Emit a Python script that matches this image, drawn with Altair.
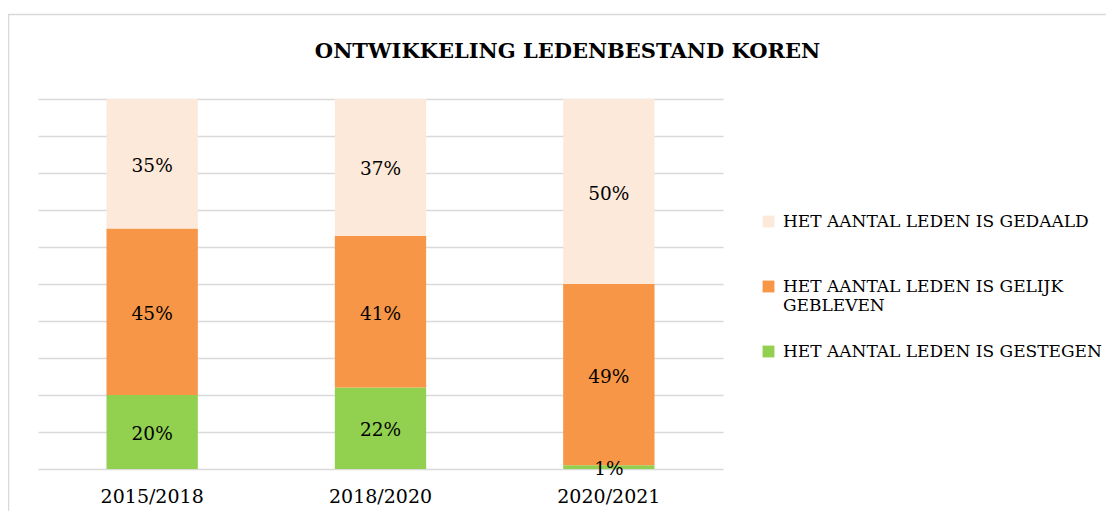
import altair as alt
import pandas as pd

periods = ["2015/2018", "2018/2020", "2020/2021"]
series = ["HET AANTAL LEDEN IS GESTEGEN", "HET AANTAL LEDEN IS GELIJK GEBLEVEN", "HET AANTAL LEDEN IS GEDAALD"]
gestegen = [20, 22, 1]
gelijk = [45, 41, 49]
gedaald = [35, 37, 50]
colors = ["#92D050", "#F79646", "#FDE9D9"]
title = "ONTWIKKELING LEDENBESTAND KOREN"

rows = []
for i, p in enumerate(periods):
    for s, vals, o in zip(series, [gestegen, gelijk, gedaald], [0, 1, 2]):
        rows.append({"period": p, "series": s, "value": vals[i] / 100, "order": o,
                     "label": f"{vals[i]}%"})
df = pd.DataFrame(rows)

FONT = "DejaVu Serif"

base = alt.Chart(df).encode(
    x=alt.X("period:N", sort=periods, title=None,
            scale=alt.Scale(paddingInner=0.6, paddingOuter=0.3),
            axis=alt.Axis(labelAngle=0, ticks=False, domain=False, labelFontSize=19,
                          labelFont=FONT, labelColor="#000000", labelPadding=18)),
)

bars = base.mark_bar().encode(
    y=alt.Y("value:Q", stack="zero", title=None,
            scale=alt.Scale(domain=[0, 1], nice=False),
            axis=alt.Axis(labels=False, ticks=False, domain=False, tickCount=10,
                          grid=True, gridColor="#D9D9D9", gridWidth=1.5)),
    color=alt.Color("series:N", sort=series,
                    scale=alt.Scale(domain=series, range=colors),
                    legend=alt.Legend(title=None, orient="none", legendX=722, legendY=114,
                                      values=series[::-1],
                                      symbolType="square", symbolSize=140, symbolStrokeWidth=0,
                                      labelFont=FONT, labelFontSize=17, labelColor="#000000",
                                      labelLimit=400, rowPadding=28,
                                      labelOffset=6,
                                      labelExpr="datum.label == 'HET AANTAL LEDEN IS GELIJK GEBLEVEN' ? ['HET AANTAL LEDEN IS GELIJK', 'GEBLEVEN'] : [datum.label, ' ']")),
    order=alt.Order("order:Q"),
)

labels = base.transform_stack(
    stack="value", groupby=["period"], as_=["v0", "v1"], sort=[alt.SortField("order")]
).transform_calculate(
    mid="(datum.v0 + datum.v1) / 2"
).mark_text(font=FONT, fontSize=18.5, color="#000000", dy=2).encode(
    y=alt.Y("mid:Q"),
    text="label:N",
)

border = alt.Chart(pd.DataFrame({"a": [0]})).mark_rect(
    fill=None, stroke="#D9D9D9", strokeWidth=1.5
).encode(x=alt.value(-29.5), x2=alt.value(1200), y=alt.value(-84.5), y2=alt.value(600))

chart = alt.layer(border, bars, labels).properties(
    width=685, height=370,
    title=alt.TitleParams(title, font=FONT, fontSize=21, fontWeight="bold", color="#000000",
                          anchor="middle", offset=-48, dx=187),
    padding={"left": 30, "top": 91, "right": 383, "bottom": 42},
    autosize=alt.AutoSizeParams(type="none"),
).configure_view(stroke=None)

chart.save("out.html", embed_options={"renderer": "svg", "actions": False})
